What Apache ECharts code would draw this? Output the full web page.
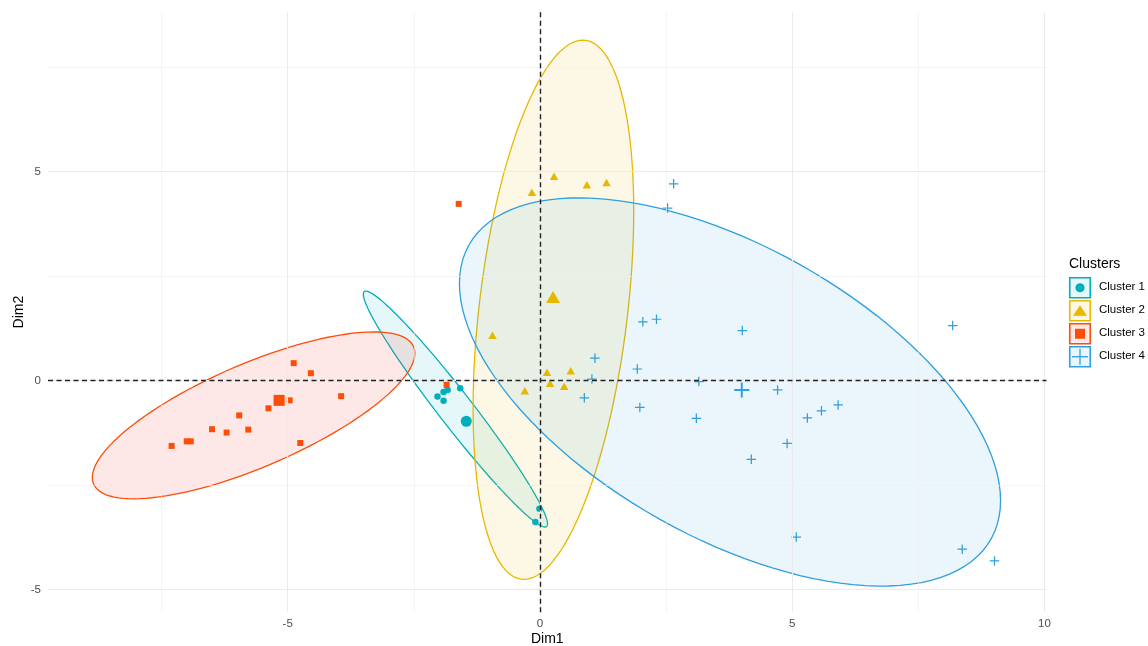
<!DOCTYPE html>
<html>
<head>
<meta charset="utf-8">
<title>Cluster plot</title>
<script src="https://cdn.jsdelivr.net/npm/echarts@6/dist/echarts.min.js"></script>
<style>
  html, body { margin: 0; padding: 0; background: #fff; }
  #chart { width: 1148px; height: 646px; }
</style>
</head>
<body>
<div id="chart"></div>
<script>
// ---- data -------------------------------------------------------------
const clusterNames = ['Cluster 1', 'Cluster 2', 'Cluster 3', 'Cluster 4'];
const clusterColors = ['#00AFBB', '#E7B800', '#FC4E07', '#2E9FDF'];
const ellipseFills = ['rgba(0,175,187,0.1)', 'rgba(231,184,0,0.1)', 'rgba(240,60,55,0.12)', 'rgba(46,159,223,0.1)'];

// individual observations [Dim1, Dim2]
const cluster1 = [
  [-2.03, -0.38], [-1.91, -0.27], [-1.83, -0.22], [-1.91, -0.48],
  [-1.58, -0.18], [-0.01, -3.06], [-0.09, -3.38]
];
const cluster2 = [
  [0.28, 4.89], [-0.16, 4.51], [0.93, 4.69], [1.32, 4.74], [-0.94, 1.09],
  [0.14, 0.20], [0.61, 0.24], [0.20, -0.06], [0.48, -0.13], [-0.30, -0.24]
];
const cluster3 = [
  [-7.30, -1.56], [-7.00, -1.45], [-6.92, -1.45], [-6.50, -1.16], [-6.21, -1.24],
  [-5.96, -0.83], [-5.78, -1.17], [-5.38, -0.66], [-4.96, -0.47], [-4.88, 0.42],
  [-4.75, -1.49], [-4.54, 0.18], [-3.94, -0.37], [-1.61, 4.23], [-1.85, -0.10]
];
const cluster4 = [
  [2.65, 4.71], [2.53, 4.13], [2.04, 1.41], [2.31, 1.47], [4.01, 1.20],
  [8.18, 1.32], [1.09, 0.54], [1.93, 0.28], [1.03, 0.04], [3.15, -0.02],
  [4.71, -0.22], [0.88, -0.41], [1.98, -0.64], [3.10, -0.90], [5.30, -0.89],
  [5.58, -0.72], [5.91, -0.58], [4.90, -1.50], [4.19, -1.88], [5.08, -3.74],
  [8.37, -4.03], [9.01, -4.31]
];
// cluster centres [Dim1, Dim2]
const centroids = [[-1.46, -0.97], [0.26, 2.00], [-5.17, -0.47], [4.00, -0.22]];

// concentration ellipses: centre and shape matrix [sxx, sxy, syy]
const ellipseCenters = [[-1.675, -0.678], [0.267, 1.697], [-5.675, -0.829], [3.767, -0.270]];
const ellipseShapes = [
  [3.333, -5.014, 7.970],
  [2.534, 3.763, 41.62],
  [10.218, 4.749, 3.985],
  [28.76, -13.92, 21.56]
];

// axis breaks
const xBreaks = [-5, 0, 5, 10];
const yBreaks = [-5, 0, 5];
const xMinorBreaks = [-7.5, -2.5, 2.5, 7.5];
const yMinorBreaks = [-2.5, 2.5, 7.5];

// ---- drawing ----------------------------------------------------------
const FONT = '"Liberation Sans", Arial, Helvetica, sans-serif';
const PLUS = 'path://M0,4.35H10V5.65H0Z M4.35,0H5.65V10H4.35Z';
const symbols = ['circle', 'triangle', 'rect', PLUS];
const pointSizes = [6.5, [8.5, 7.5], 6, 9.5];
const centroidSizes = [11, [14, 12], 11, 15];

function ellipsePoints(i) {
  const c = ellipseCenters[i], s = ellipseShapes[i];
  const l11 = Math.sqrt(s[0]);
  const l21 = s[1] / l11;
  const l22 = Math.sqrt(s[2] - l21 * l21);
  const pts = [];
  const n = 120;
  for (let k = 0; k < n; k++) {
    const t = 2 * Math.PI * k / n;
    pts.push([c[0] + l11 * Math.cos(t), c[1] + l21 * Math.cos(t) + l22 * Math.sin(t)]);
  }
  return pts;
}

const chart = echarts.init(document.getElementById('chart'), null, { renderer: 'canvas' });

const series = [];

// panel grid lines
series.push({
  type: 'line', data: [], z: 0, silent: true, animation: false,
  markLine: {
    silent: true, animation: false, symbol: ['none', 'none'], label: { show: false },
    lineStyle: { color: '#EBEBEB', type: 'solid' },
    data: [
      ...xMinorBreaks.map(v => ({ xAxis: v, lineStyle: { width: 0.6, color: '#EFEFEF', type: 'solid' } })),
      ...yMinorBreaks.map(v => ({ yAxis: v, lineStyle: { width: 0.6, color: '#EFEFEF', type: 'solid' } })),
      ...xBreaks.map(v => ({ xAxis: v, lineStyle: { width: 1.1, color: '#EBEBEB', type: 'solid' } })),
      ...yBreaks.map(v => ({ yAxis: v, lineStyle: { width: 1.1, color: '#EBEBEB', type: 'solid' } }))
    ]
  }
});

// ellipses
series.push({
  type: 'custom', z: 1, silent: true, animation: false,
  data: ellipseCenters.map((c, i) => [c[0], c[1], i]),
  encode: { x: 0, y: 1 },
  renderItem: function (params, api) {
    const i = params.dataIndex;
    const pts = ellipsePoints(i).map(p => api.coord(p));
    return {
      type: 'polygon',
      shape: { points: pts },
      style: { fill: ellipseFills[i], stroke: clusterColors[i], lineWidth: 1.3 }
    };
  }
});

// observations and centres
[cluster1, cluster2, cluster3, cluster4].forEach((pts, i) => {
  series.push({
    name: clusterNames[i], type: 'scatter', z: 2, animation: false, silent: true,
    symbol: symbols[i], symbolSize: pointSizes[i],
    itemStyle: { color: clusterColors[i], opacity: 1 },
    data: pts
  });
  series.push({
    name: clusterNames[i] + ' centre', type: 'scatter', z: 2, animation: false, silent: true,
    symbol: symbols[i], symbolSize: centroidSizes[i],
    itemStyle: { color: clusterColors[i], opacity: 1 },
    data: [centroids[i]]
  });
});

// dashed reference lines through the origin
series.push({
  type: 'line', data: [], z: 5, silent: true, animation: false,
  markLine: {
    silent: true, animation: false, symbol: ['none', 'none'], label: { show: false },
    lineStyle: { color: '#222', width: 1.4, type: [5, 3.5] },
    data: [{ xAxis: 0 }, { yAxis: 0 }]
  }
});

// legend
const legendX = 1069, legendTop = 277, keyW = 22, keyH = 21.5, pitch = 23;
const graphics = [{
  type: 'text', left: legendX, top: 257,
  style: { text: 'Clusters', font: '14px ' + FONT, fill: '#000' }
}];
clusterNames.forEach((name, i) => {
  const y0 = legendTop + i * pitch;
  const cx = legendX + keyW / 2, cy = y0 + keyH / 2;
  const col = clusterColors[i];
  graphics.push({
    type: 'rect', shape: { x: legendX + 0.75, y: y0 + 0.75, width: keyW - 1.5, height: keyH - 1.5 },
    style: { fill: ellipseFills[i], stroke: col, lineWidth: 1.6 }
  });
  let sym;
  if (i === 0) sym = { type: 'circle', shape: { cx: cx, cy: cy, r: 4.6 }, style: { fill: col } };
  else if (i === 1) sym = { type: 'polygon', shape: { points: [[cx, cy - 5.5], [cx + 7, cy + 5], [cx - 7, cy + 5]] }, style: { fill: col } };
  else if (i === 2) sym = { type: 'rect', shape: { x: cx - 5, y: cy - 5, width: 10, height: 10 }, style: { fill: col } };
  else sym = {
    type: 'group', children: [
      { type: 'line', shape: { x1: cx - 8, y1: cy, x2: cx + 8, y2: cy }, style: { stroke: col, lineWidth: 1.3 } },
      { type: 'line', shape: { x1: cx, y1: cy - 8, x2: cx, y2: cy + 8 }, style: { stroke: col, lineWidth: 1.3 } }
    ]
  };
  graphics.push(sym);
  graphics.push({
    type: 'text', left: legendX + 30, top: cy - 6.5,
    style: { text: name, font: '11.5px ' + FONT, fill: '#000' }
  });
});

const option = {
  animation: false,
  textStyle: { fontFamily: FONT },
  grid: { left: 48, right: 101.5, top: 12, bottom: 33.7, containLabel: false, outerBoundsMode: 'none' },
  xAxis: {
    type: 'value', min: -9.75, max: 10.04,
    name: 'Dim1', nameLocation: 'middle', nameGap: 20, nameMoveOverlap: false,
    nameTextStyle: { fontSize: 14, color: '#000', fontFamily: FONT },
    axisLine: { show: false },
    axisTick: { show: true, length: 3.7, customValues: xBreaks, lineStyle: { color: '#333', width: 1.1 } },
    axisLabel: { show: true, customValues: xBreaks, margin: 6, fontSize: 11.5, color: '#4D4D4D', fontFamily: FONT },
    splitLine: { show: false }
  },
  yAxis: {
    type: 'value', min: -5.54, max: 8.82,
    name: 'Dim2', nameLocation: 'middle', nameGap: 22, nameRotate: 90, nameMoveOverlap: false,
    nameTextStyle: { fontSize: 14, color: '#000', fontFamily: FONT },
    axisLine: { show: false },
    axisTick: { show: true, length: 3.7, customValues: yBreaks, lineStyle: { color: '#333', width: 1.1 } },
    axisLabel: { show: true, customValues: yBreaks, margin: 7, fontSize: 11.5, color: '#4D4D4D', fontFamily: FONT },
    splitLine: { show: false }
  },
  graphic: graphics,
  series: series
};

chart.setOption(option);
</script>
</body>
</html>
